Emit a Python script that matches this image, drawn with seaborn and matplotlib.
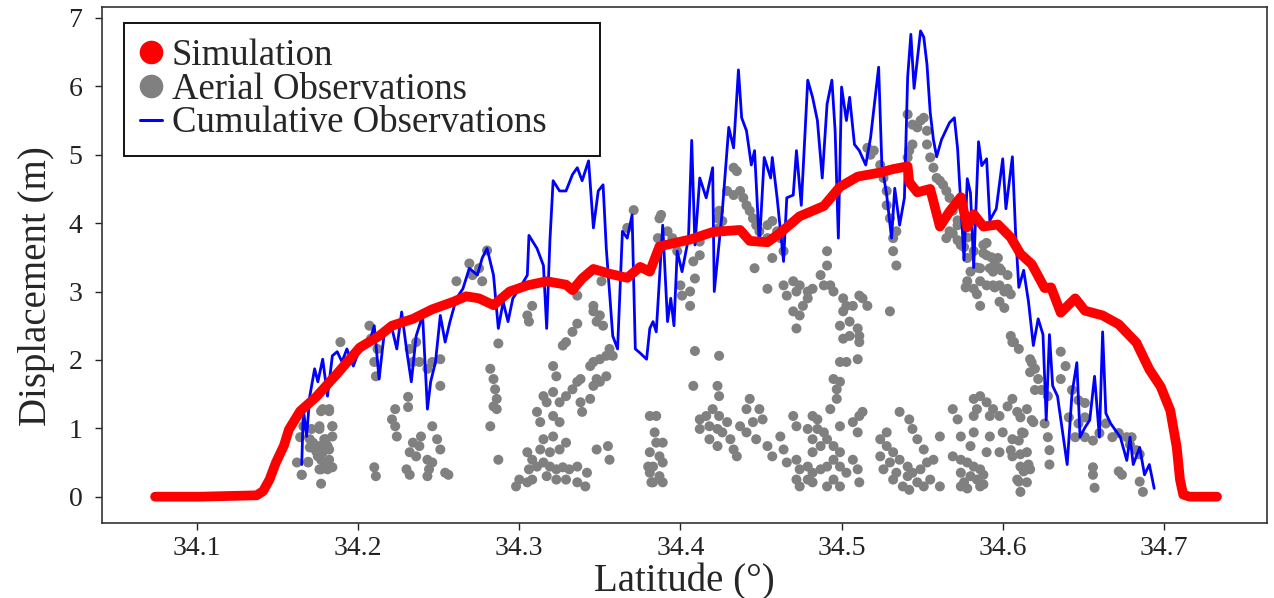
import numpy as np
import pandas as pd
import matplotlib
matplotlib.use("Agg")
import matplotlib.pyplot as plt
from matplotlib.lines import Line2D
import seaborn as sns

# ---------------- data ----------------
sim_lat = [34.074, 34.102, 34.137, 34.141, 34.145, 34.149, 34.154, 34.157, 34.164, 34.174,
           34.187, 34.201, 34.213, 34.221, 34.234, 34.246, 34.259, 34.267, 34.275, 34.284,
           34.294, 34.305, 34.317, 34.329, 34.333, 34.339, 34.346, 34.356, 34.367, 34.375,
           34.381, 34.387, 34.406, 34.420, 34.437, 34.443, 34.454, 34.462, 34.474, 34.489,
           34.499, 34.510, 34.524, 34.532, 34.541, 34.542, 34.547, 34.555, 34.561, 34.567,
           34.574, 34.578, 34.582, 34.588, 34.597, 34.605, 34.611, 34.618, 34.626, 34.630,
           34.636, 34.645, 34.651, 34.662, 34.672, 34.683, 34.691, 34.698, 34.704, 34.708,
           34.710, 34.712, 34.716, 34.733]
sim_disp = [0.0, 0.0, 0.02, 0.08, 0.25, 0.5, 0.75, 0.98, 1.25, 1.46,
            1.8, 2.18, 2.35, 2.5, 2.6, 2.74, 2.85, 2.93, 2.9, 2.8,
            3.0, 3.09, 3.15, 3.1, 3.02, 3.19, 3.33, 3.26, 3.2, 3.36,
            3.29, 3.66, 3.76, 3.87, 3.9, 3.74, 3.72, 3.86, 4.1, 4.25,
            4.53, 4.68, 4.74, 4.79, 4.83, 4.6, 4.45, 4.5, 3.95, 4.17,
            4.38, 3.94, 4.13, 3.95, 3.98, 3.79, 3.55, 3.4, 3.05, 3.06,
            2.69, 2.9, 2.72, 2.65, 2.52, 2.25, 1.86, 1.61, 1.26, 0.72,
            0.25, 0.03, 0.0, 0.0]

cum_lat = [34.165, 34.166, 34.168, 34.170, 34.173, 34.175, 34.178, 34.181, 34.184, 34.187,
           34.190, 34.193, 34.197, 34.201, 34.207, 34.210, 34.213, 34.216, 34.221, 34.224,
           34.227, 34.230, 34.233, 34.236, 34.240, 34.243, 34.245, 34.248, 34.251, 34.254,
           34.257, 34.261, 34.265, 34.269, 34.274, 34.277, 34.280, 34.284, 34.287, 34.290,
           34.293, 34.296, 34.300, 34.305, 34.306, 34.311, 34.315, 34.317, 34.319, 34.321,
           34.325, 34.329, 34.333, 34.336, 34.339, 34.343, 34.346, 34.349, 34.352, 34.354,
           34.358, 34.361, 34.364, 34.367, 34.370, 34.372, 34.375, 34.379, 34.381, 34.383,
           34.385, 34.389, 34.392, 34.394, 34.396, 34.398, 34.401, 34.405, 34.407, 34.409,
           34.412, 34.416, 34.420, 34.421, 34.426, 34.430, 34.433, 34.436, 34.438, 34.441,
           34.444, 34.446, 34.449, 34.452, 34.456, 34.457, 34.460, 34.464, 34.466, 34.470,
           34.472, 34.475, 34.479, 34.482, 34.485, 34.488, 34.491, 34.494, 34.496, 34.498,
           34.500, 34.503, 34.505, 34.508, 34.511, 34.515, 34.518, 34.523, 34.525, 34.528,
           34.531, 34.533, 34.536, 34.539, 34.541, 34.543, 34.545, 34.549, 34.551, 34.553,
           34.555, 34.557, 34.559, 34.562, 34.567, 34.570, 34.572, 34.576, 34.578, 34.580,
           34.582, 34.585, 34.587, 34.590, 34.592, 34.596, 34.600, 34.602, 34.606, 34.608,
           34.610, 34.613, 34.616, 34.619, 34.622, 34.625, 34.627, 34.629, 34.631, 34.634,
           34.640, 34.643, 34.646, 34.648, 34.651, 34.654, 34.657, 34.660, 34.662, 34.664,
           34.667, 34.670, 34.673, 34.677, 34.679, 34.681, 34.685, 34.688, 34.691, 34.694]
cum_disp = [0.47, 1.28, 0.88, 1.47, 1.87, 1.68, 2.01, 1.47, 2.06, 2.12,
            1.97, 2.16, 1.91, 2.16, 2.26, 2.5, 1.72, 2.35, 2.46, 2.16,
            2.7, 2.16, 1.68, 2.35, 2.65, 1.28, 1.68, 1.97, 2.65, 2.26,
            2.56, 2.9, 3.04, 3.34, 3.24, 3.49, 3.63, 3.24, 2.46, 2.85,
            2.56, 2.9, 3.04, 3.24, 3.82, 3.63, 3.38, 2.46, 3.74, 4.62,
            4.47, 4.47, 4.71, 4.81, 4.62, 4.91, 3.93, 4.47, 4.56, 3.63,
            2.35, 2.16, 3.88, 3.78, 4.12, 2.16, 2.1, 2.01, 2.46, 2.56,
            2.41, 3.97, 2.56, 2.9, 2.5, 3.59, 3.29, 3.78, 5.21, 3.68,
            4.66, 4.37, 4.81, 3.0, 4.18, 5.4, 5.1, 6.24, 5.54, 5.35,
            4.85, 5.06, 3.68, 4.96, 4.66, 4.96, 4.37, 3.44, 4.37, 4.41,
            5.06, 4.26, 6.09, 5.84, 5.5, 4.66, 5.74, 6.09, 5.35, 3.78,
            5.99, 5.5, 5.84, 5.15, 5.06, 4.85, 5.25, 6.28, 4.85, 4.41,
            3.78, 4.51, 3.97, 4.37, 6.13, 6.76, 5.97, 6.81, 6.72, 6.32,
            5.62, 5.22, 4.97, 5.22, 5.47, 5.54, 5.09, 3.46, 4.65, 4.44,
            3.35, 5.19, 4.84, 4.94, 4.04, 4.21, 4.94, 4.21, 4.97, 3.85,
            3.06, 3.31, 2.85, 2.21, 2.6, 2.37, 1.12, 2.37, 1.62, 1.47,
            0.47, 1.51, 1.96, 0.87, 1.01, 1.12, 1.76, 0.87, 2.41, 1.22,
            1.07, 0.97, 0.87, 0.53, 0.87, 0.47, 0.72, 0.32, 0.47, 0.12]

# aerial observations, grouped by cluster along the fault
aer_lat_1 = [34.165, 34.162, 34.169, 34.164, 34.171, 34.176, 34.182, 34.177, 34.184, 34.184,
             34.172, 34.176, 34.179, 34.181, 34.174, 34.178, 34.182, 34.177, 34.180, 34.184,
             34.177, 34.177, 34.170, 34.175, 34.178, 34.182, 34.166, 34.176, 34.184, 34.170,
             34.180, 34.174, 34.182, 34.169, 34.180, 34.176, 34.181, 34.165]
aer_disp_1 = [0.32, 0.5, 0.5, 0.87, 0.99, 1.03, 1.25, 1.25, 1.03, 0.88,
              0.79, 0.74, 0.84, 0.74, 0.66, 0.65, 0.54, 0.54, 0.43, 0.43,
              0.4, 0.19, 0.72, 0.59, 1.28, 1.28, 1.03, 0.99, 1.03, 0.84,
              0.84, 0.69, 0.69, 0.51, 0.5, 0.4, 0.4, 0.32]

aer_lat_2 = [34.189, 34.207, 34.208, 34.210, 34.211, 34.212, 34.210, 34.211,
             34.223, 34.221, 34.223, 34.224, 34.231, 34.231, 34.239, 34.234, 34.238, 34.232,
             34.236, 34.246, 34.249, 34.251, 34.243, 34.246, 34.230, 34.232, 34.244, 34.243,
             34.251, 34.254, 34.256, 34.232, 34.234, 34.238, 34.243, 34.246, 34.251, 34.236]
aer_disp_2 = [2.26, 2.5, 2.31, 1.97, 1.76, 2.16, 0.43, 0.3,
              1.28, 1.13, 1.03, 0.88, 1.46, 1.31, 0.88, 0.79, 0.74, 0.65,
              0.59, 1.03, 0.84, 0.69, 0.54, 0.5, 0.4, 0.32, 0.4, 0.3,
              1.62, 0.35, 0.32, 2.16, 1.97, 1.97, 1.87, 1.97, 2.01, 2.26]

aer_lat_3 = [34.261, 34.269, 34.271, 34.275, 34.280, 34.277, 34.287, 34.282, 34.284, 34.285,
             34.286, 34.284, 34.286, 34.282, 34.287]
aer_disp_3 = [3.15, 3.41, 3.24, 3.34, 3.6, 3.15, 2.24, 1.87, 1.72, 1.57,
              1.43, 1.32, 1.28, 1.03, 0.54]

aer_lat_4 = [34.300, 34.305, 34.308, 34.298, 34.306, 34.311, 34.315, 34.319, 34.323, 34.327,
             34.331, 34.336, 34.317, 34.323, 34.329, 34.336, 34.341, 34.305, 34.308, 34.313,
             34.319, 34.325, 34.329, 34.315, 34.321, 34.313, 34.311, 34.317, 34.315, 34.321,
             34.325, 34.321, 34.325, 34.329, 34.333, 34.336, 34.338, 34.323, 34.321, 34.327,
             34.329, 34.333, 34.336, 34.338, 34.339, 34.344, 34.348, 34.355, 34.356, 34.342,
             34.344, 34.346, 34.350, 34.354, 34.348, 34.346, 34.350, 34.354, 34.356, 34.358,
             34.336, 34.346, 34.346, 34.348, 34.350, 34.352, 34.351, 34.308, 34.305, 34.306,
             34.371, 34.367, 34.387, 34.386, 34.381, 34.384, 34.380, 34.382]
aer_disp_4 = [0.25, 0.21, 0.25, 0.15, 0.4, 0.44, 0.5, 0.44, 0.4, 0.43,
              0.4, 0.44, 0.3, 0.25, 0.25, 0.21, 0.15, 0.65, 0.54, 0.69,
              0.65, 0.69, 0.79, 0.84, 0.88, 1.09, 1.24, 1.38, 1.47, 1.18,
              1.09, 1.53, 1.38, 1.47, 1.57, 1.68, 1.72, 1.76, 1.91, 2.21,
              2.26, 2.41, 2.53, 1.38, 1.24, 1.43, 0.69, 0.74, 0.54, 0.35,
              1.91, 1.97, 2.01, 2.06, 1.72, 1.62, 1.68, 1.76, 2.16, 2.06,
              2.94, 2.79, 2.71, 2.56, 2.65, 2.5, 3.15, 2.79, 2.65, 2.56,
              4.19, 3.93, 4.07, 3.78, 1.18, 0.94, 0.44, 0.21]

aer_lat_5 = [34.385, 34.385, 34.389, 34.381, 34.387, 34.383, 34.389, 34.381, 34.387, 34.383,
             34.389, 34.388, 34.392, 34.395, 34.398, 34.412, 34.408, 34.412, 34.400, 34.401,
             34.406, 34.409, 34.406, 34.409, 34.424, 34.408, 34.423, 34.424]
aer_disp_5 = [1.18, 0.79, 0.79, 0.65, 0.59, 0.44, 0.5, 0.35, 0.3, 0.21,
              0.21, 4.12, 3.88, 3.78, 3.59, 3.73, 3.44, 3.53, 3.09, 2.94,
              2.79, 3.19, 3.0, 2.13, 2.06, 1.62, 1.62, 1.47]

aer_lat_6 = [34.412, 34.416, 34.420, 34.424, 34.418, 34.412, 34.423, 34.429, 34.426, 34.431,
             34.418, 34.423, 34.433, 34.435, 34.437, 34.441, 34.443, 34.441, 34.449, 34.451,
             34.445, 34.447, 34.454, 34.457, 34.462, 34.464, 34.466, 34.470, 34.472, 34.472,
             34.474, 34.479, 34.482, 34.479, 34.482, 34.472, 34.487, 34.491, 34.482, 34.487,
             34.491, 34.482, 34.485, 34.489, 34.479, 34.485, 34.482, 34.495, 34.499, 34.495,
             34.499, 34.503, 34.495, 34.499, 34.507, 34.510, 34.511, 34.493, 34.499, 34.507,
             34.510, 34.511, 34.513, 34.491, 34.474]
aer_disp_6 = [1.13, 1.18, 1.28, 1.18, 1.03, 0.99, 0.99, 1.09, 0.94, 0.84,
              0.84, 0.74, 0.69, 0.59, 1.03, 0.94, 1.43, 1.28, 1.28, 1.13,
              1.09, 0.84, 0.74, 0.59, 0.88, 0.69, 0.5, 1.18, 1.03, 0.54,
              0.4, 0.44, 0.35, 0.25, 0.21, 0.25, 0.4, 0.44, 0.65, 0.74,
              0.84, 0.84, 0.99, 0.94, 0.99, 1.13, 1.18, 0.74, 0.65, 0.54,
              0.44, 0.35, 0.25, 0.15, 0.54, 0.4, 0.21, 1.28, 1.03, 1.09,
              0.94, 1.18, 1.24, 0.15, 0.15]

aer_lat_7 = [34.491, 34.487, 34.489, 34.493, 34.495, 34.501, 34.503, 34.507, 34.501, 34.511,
             34.516, 34.499, 34.505, 34.510, 34.511, 34.501, 34.505, 34.511, 34.499, 34.503,
             34.510, 34.495, 34.499, 34.497, 34.472, 34.474, 34.479, 34.479, 34.482, 34.476,
             34.470, 34.474, 34.472, 34.470, 34.464, 34.466, 34.454, 34.446, 34.491, 34.497,
             34.530, 34.513,
             34.433, 34.435, 34.429, 34.433, 34.437, 34.439, 34.441, 34.443, 34.445, 34.424,
             34.426, 34.447, 34.449, 34.454, 34.457, 34.460, 34.454, 34.462, 34.464, 34.457,
             34.424, 34.423]
aer_disp_7 = [3.38, 3.24, 3.09, 3.09, 3.0, 2.9, 2.79, 2.79, 2.71, 2.94,
              2.79, 2.5, 2.56, 2.46, 2.35, 2.31, 2.35, 2.26, 1.97, 1.97,
              2.01, 1.72, 1.68, 1.57, 3.0, 3.09, 2.9, 3.0, 3.04, 2.79,
              2.71, 2.65, 2.46, 3.15, 3.09, 2.94, 3.04, 3.34, 3.59, 1.43,
              2.71, 2.9,
              4.81, 4.76, 4.47, 4.41, 4.47, 4.37, 4.26, 4.18, 4.07, 4.18,
              4.03, 3.97, 3.88, 3.97, 4.03, 3.88, 3.78, 3.78, 3.59, 3.49,
              3.93, 4.07]

aer_lat_8 = [34.516, 34.518, 34.520, 34.524, 34.526, 34.528, 34.528, 34.530, 34.532, 34.532,
             34.534, 34.534,
             34.541, 34.544, 34.547, 34.549, 34.551, 34.553, 34.544, 34.542, 34.541, 34.553,
             34.555, 34.557, 34.559, 34.561, 34.563, 34.565, 34.567, 34.569, 34.572, 34.565,
             34.567, 34.574, 34.578, 34.580, 34.582, 34.588, 34.590, 34.592, 34.586, 34.594,
             34.597, 34.598, 34.578, 34.582, 34.586, 34.590, 34.594, 34.598, 34.603, 34.603,
             34.586, 34.598, 34.605, 34.606, 34.617, 34.617, 34.572, 34.569, 34.572, 34.578,
             34.576, 34.590, 34.588, 34.593, 34.595, 34.584, 34.599, 34.577, 34.595, 34.601,
             34.605, 34.584, 34.601, 34.607, 34.610]
aer_disp_8 = [5.1, 5.0, 5.06, 4.85, 4.66, 4.47, 4.26, 4.07, 3.78, 3.59,
              3.38, 3.88,
              5.59, 5.44, 5.4, 5.5, 5.54, 5.35, 5.15, 5.06, 4.96, 5.15,
              4.96, 4.81, 4.66, 4.62, 4.56, 4.47, 4.37, 4.18, 3.97, 3.78,
              3.88, 3.68, 3.49, 3.29, 3.59, 3.68, 3.53, 3.34, 3.34, 3.29,
              3.49, 3.34, 3.15, 3.04, 3.15, 3.09, 3.09, 3.09, 3.24, 3.04,
              2.79, 2.85, 2.35, 2.26, 2.01, 1.82, 4.04, 3.85, 3.75, 3.79,
              3.65, 3.71, 3.56, 3.5, 3.4, 3.35, 3.31, 3.06, 3.06, 3.0,
              2.96, 2.96, 2.76, 2.26, 2.16]

aer_lat_9 = [34.618, 34.620, 34.622, 34.620, 34.624, 34.628, 34.626, 34.628, 34.629, 34.629,
             34.636, 34.639, 34.636, 34.643, 34.647, 34.651, 34.641, 34.647, 34.651, 34.645,
             34.651, 34.656, 34.660, 34.664, 34.668, 34.672, 34.677, 34.679, 34.672, 34.674,
             34.656, 34.656, 34.657, 34.685, 34.687, 34.685, 34.680, 34.683]
aer_disp_9 = [1.96, 1.87, 1.72, 1.56, 1.56, 1.47, 1.07, 0.87, 0.68, 0.47,
              2.12, 1.91, 1.72, 1.56, 1.41, 1.37, 1.16, 1.07, 1.16, 0.87,
              0.87, 0.82, 0.93, 1.07, 0.87, 0.93, 0.87, 0.76, 0.37, 0.32,
              0.43, 0.32, 0.13, 0.22, 0.07, 0.62, 0.87, 0.68]

aer_lat_10 = [34.569, 34.572, 34.582, 34.586, 34.590, 34.584, 34.594, 34.582, 34.592, 34.598,
              34.603, 34.606, 34.609, 34.615, 34.619, 34.574, 34.582, 34.592, 34.600, 34.606,
              34.612, 34.580, 34.590, 34.598, 34.606, 34.615, 34.611, 34.609, 34.615, 34.617,
              34.569, 34.574, 34.578, 34.582, 34.586, 34.574, 34.580, 34.584, 34.576, 34.586,
              34.574, 34.578, 34.588, 34.588, 34.610, 34.611, 34.613, 34.616, 34.611, 34.605,
              34.610, 34.613, 34.618, 34.611]
aer_disp_10 = [1.28, 1.13, 1.43, 1.47, 1.38, 1.28, 1.28, 1.18, 1.18, 1.18,
               1.32, 1.43, 1.24, 1.28, 1.09, 0.88, 0.94, 0.88, 0.94, 0.84,
               0.94, 0.74, 0.65, 0.65, 0.59, 0.65, 0.44, 0.25, 0.21, 0.4,
               0.59, 0.54, 0.5, 0.44, 0.4, 0.35, 0.3, 0.25, 0.21, 0.15,
               0.15, 0.12, 0.18, 0.32, 0.22, 0.07, 0.37, 0.47, 0.62, 0.68,
               0.82, 0.93, 1.12, 1.16]

aer_lat_11 = [34.524, 34.528, 34.532, 34.524, 34.530, 34.536, 34.541, 34.534, 34.541, 34.544,
              34.549, 34.547, 34.538, 34.542, 34.551, 34.555, 34.532, 34.526, 34.544, 34.547,
              34.551, 34.553, 34.561, 34.557, 34.528, 34.542, 34.536, 34.561]
aer_disp_11 = [0.84, 0.74, 0.65, 0.59, 0.5, 0.54, 0.44, 0.35, 0.3, 0.35,
               0.4, 0.21, 0.15, 0.1, 0.15, 0.25, 0.25, 0.4, 0.99, 0.84,
               0.69, 0.5, 0.88, 0.54, 0.94, 1.13, 1.24, 0.15]

yticks = [0, 1, 2, 3, 4, 5, 6, 7]
xticks = [34.1, 34.2, 34.3, 34.4, 34.5, 34.6, 34.7]
xtick_labels = ["34.1", "34.2", "34.3", "34.4", "34.5", "34.6", "34.7"]
legend_labels = ["Simulation", "Aerial Observations", "Cumulative Observations"]

# ---------------- frames ----------------
aer_lat = (aer_lat_1 + aer_lat_2 + aer_lat_3 + aer_lat_4 + aer_lat_5 + aer_lat_6 +
           aer_lat_7 + aer_lat_8 + aer_lat_9 + aer_lat_10 + aer_lat_11)
aer_disp = (aer_disp_1 + aer_disp_2 + aer_disp_3 + aer_disp_4 + aer_disp_5 + aer_disp_6 +
            aer_disp_7 + aer_disp_8 + aer_disp_9 + aer_disp_10 + aer_disp_11)
df_aer = pd.DataFrame({"lat": aer_lat, "disp": aer_disp})
df_cum = pd.DataFrame({"lat": cum_lat, "disp": cum_disp})
df_sim = pd.DataFrame({"lat": sim_lat, "disp": sim_disp})

sns.set_style("ticks")
plt.rcParams["font.family"] = ["Liberation Serif", "DejaVu Serif"]

fig = plt.figure(figsize=(12.74, 5.98), dpi=100)
ax = fig.add_axes([0.080, 0.1254, 0.9145, 0.8629])

GRAY = "#808080"
BLUE = "#0000ff"
RED = "#ff0000"

sns.scatterplot(data=df_aer, x="lat", y="disp", ax=ax, color=GRAY, s=52,
                edgecolor="none", linewidth=0, zorder=2, legend=False)
sns.lineplot(data=df_cum, x="lat", y="disp", ax=ax, color=BLUE, lw=2.0,
             estimator=None, sort=False, zorder=3, legend=False)
sns.lineplot(data=df_sim, x="lat", y="disp", ax=ax, color=RED, lw=7.0,
             estimator=None, sort=False, zorder=4, legend=False,
             solid_capstyle="round", solid_joinstyle="round")

ax.set_xlim(34.041, 34.764)
ax.set_ylim(-0.385, 7.16)
ax.set_xticks(xticks)
ax.set_xticklabels(xtick_labels)
ax.set_yticks(yticks)
ax.tick_params(axis="both", direction="out", length=5, width=1.0,
               labelsize=20, colors="#222222")
ax.tick_params(axis="x", pad=4)
ax.tick_params(axis="y", pad=9)
ax.set_xlabel("Latitude (°)", fontsize=28, labelpad=2)
ax.set_ylabel("Displacement (m)", fontsize=28)
ax.yaxis.set_label_coords(-0.040, 0.46)
for sp in ax.spines.values():
    sp.set_visible(True)
    sp.set_linewidth(1.2)
    sp.set_color("#333333")

handles = [
    Line2D([], [], marker="o", ls="", color=RED, markersize=16),
    Line2D([], [], marker="o", ls="", color=GRAY, markersize=16),
    Line2D([], [], ls="-", color=BLUE, lw=2.2),
]
leg = ax.legend(handles, legend_labels, loc="upper left",
                bbox_to_anchor=(0.019, 0.50, 0.4086, 0.469), mode="expand",
                borderaxespad=0.0, fontsize=26.5,
                frameon=True, fancybox=False, framealpha=1, edgecolor="#111111",
                handlelength=0.62, handletextpad=0.25, labelspacing=-0.02,
                borderpad=0.42)
leg.get_frame().set_linewidth(1.4)

fig.savefig("out.png", dpi=100)
